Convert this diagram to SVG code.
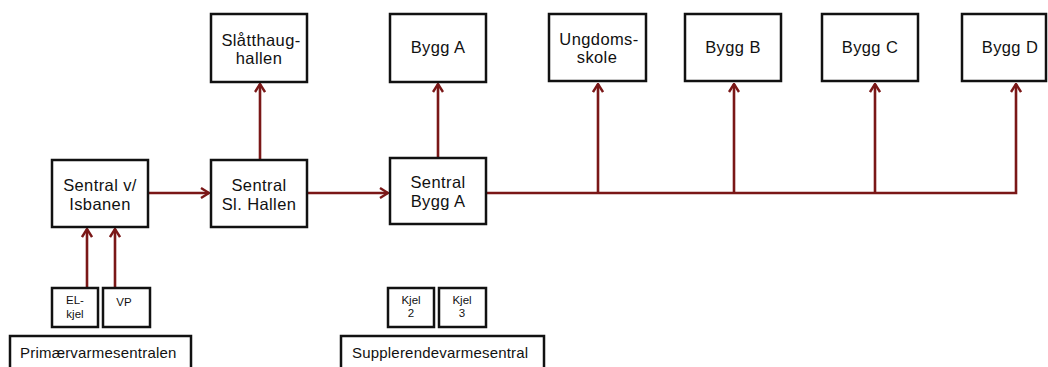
<svg xmlns="http://www.w3.org/2000/svg" width="1048" height="367" viewBox="0 0 1048 367">
<defs>
<style>
.box{fill:#fff;stroke:#111;stroke-width:2.5}
.c{fill:none;stroke:#7a1717;stroke-width:2.6}
text{font-family:"Liberation Sans",Arial,sans-serif;fill:#111}
.t{font-size:16.5px;text-anchor:middle;letter-spacing:0.4px}
.s{font-size:11.5px;text-anchor:middle}
.l{font-size:15px;letter-spacing:0.2px}
</style>
<marker id="ah" viewBox="0 0 12 12" refX="11" refY="6" markerWidth="12" markerHeight="12" markerUnits="userSpaceOnUse" orient="auto">
<path d="M3,1 L11,6 L3,11" fill="none" stroke="#7a1717" stroke-width="2.4"/>
</marker>
</defs>
<rect width="1048" height="367" fill="#fff"/>
<g id="connectors">
<line class="c" x1="149" y1="193" x2="209" y2="193" marker-end="url(#ah)"/>
<line class="c" x1="308" y1="193" x2="388" y2="193" marker-end="url(#ah)"/>
<line class="c" x1="260" y1="159" x2="260" y2="84" marker-end="url(#ah)"/>
<line class="c" x1="438" y1="158" x2="438" y2="84" marker-end="url(#ah)"/>
<polyline class="c" points="487,193 1016,193 1016,84" marker-end="url(#ah)"/>
<line class="c" x1="598" y1="193" x2="598" y2="84" marker-end="url(#ah)"/>
<line class="c" x1="734" y1="193" x2="734" y2="84" marker-end="url(#ah)"/>
<line class="c" x1="875" y1="193" x2="875" y2="84" marker-end="url(#ah)"/>
<line class="c" x1="87" y1="288" x2="87" y2="229" marker-end="url(#ah)"/>
<line class="c" x1="115" y1="288" x2="115" y2="229" marker-end="url(#ah)"/>
</g>
<g id="n-isbanen"><rect class="box" x="52" y="160" width="96" height="67"/><text class="t" x="100" y="191">Sentral v/</text><text class="t" x="100" y="210">Isbanen</text></g>
<g id="n-slhallen"><rect class="box" x="211" y="160" width="96" height="67"/><text class="t" x="259" y="191">Sentral</text><text class="t" x="259" y="210">Sl. Hallen</text></g>
<g id="n-sentralbyggA"><rect class="box" x="390" y="158" width="96" height="66"/><text class="t" x="438" y="188">Sentral</text><text class="t" x="438" y="207">Bygg A</text></g>
<g id="n-slatthaug"><rect class="box" x="211" y="14" width="96" height="68"/><text class="t" x="261" y="46">Slåtthaug-</text><text class="t" x="259" y="64">hallen</text></g>
<g id="n-byggA"><rect class="box" x="390" y="14" width="96" height="68"/><text class="t" x="438" y="53">Bygg A</text></g>
<g id="n-ungdom"><rect class="box" x="549" y="14" width="97" height="67"/><text class="t" x="599" y="45">Ungdoms-</text><text class="t" x="597" y="63">skole</text></g>
<g id="n-byggB"><rect class="box" x="685" y="14" width="96" height="67"/><text class="t" x="733" y="53">Bygg B</text></g>
<g id="n-byggC"><rect class="box" x="822" y="14" width="96" height="67"/><text class="t" x="870" y="53">Bygg C</text></g>
<g id="n-byggD"><rect class="box" x="962" y="14" width="84" height="67"/><text class="t" x="1010" y="53">Bygg D</text></g>
<g id="n-elkjel"><rect class="box" x="52" y="288" width="46" height="39"/><text class="s" x="75" y="304">EL-</text><text class="s" x="75" y="318">kjel</text></g>
<g id="n-vp"><rect class="box" x="103" y="288" width="47" height="39"/><text class="s" x="124" y="306">VP</text></g>
<g id="n-kjel2"><rect class="box" x="388" y="288" width="46" height="39"/><text class="s" x="411" y="304">Kjel</text><text class="s" x="411" y="317">2</text></g>
<g id="n-kjel3"><rect class="box" x="439" y="288" width="47" height="39"/><text class="s" x="462" y="304">Kjel</text><text class="s" x="462" y="317">3</text></g>
<g id="n-primaer"><rect class="box" x="10" y="336" width="181" height="40"/><text class="l" x="20" y="358">Primærvarmesentralen</text></g>
<g id="n-suppl"><rect class="box" x="341" y="336" width="203" height="40"/><text class="l" x="352" y="358">Supplerendevarmesentral</text></g>
</svg>
